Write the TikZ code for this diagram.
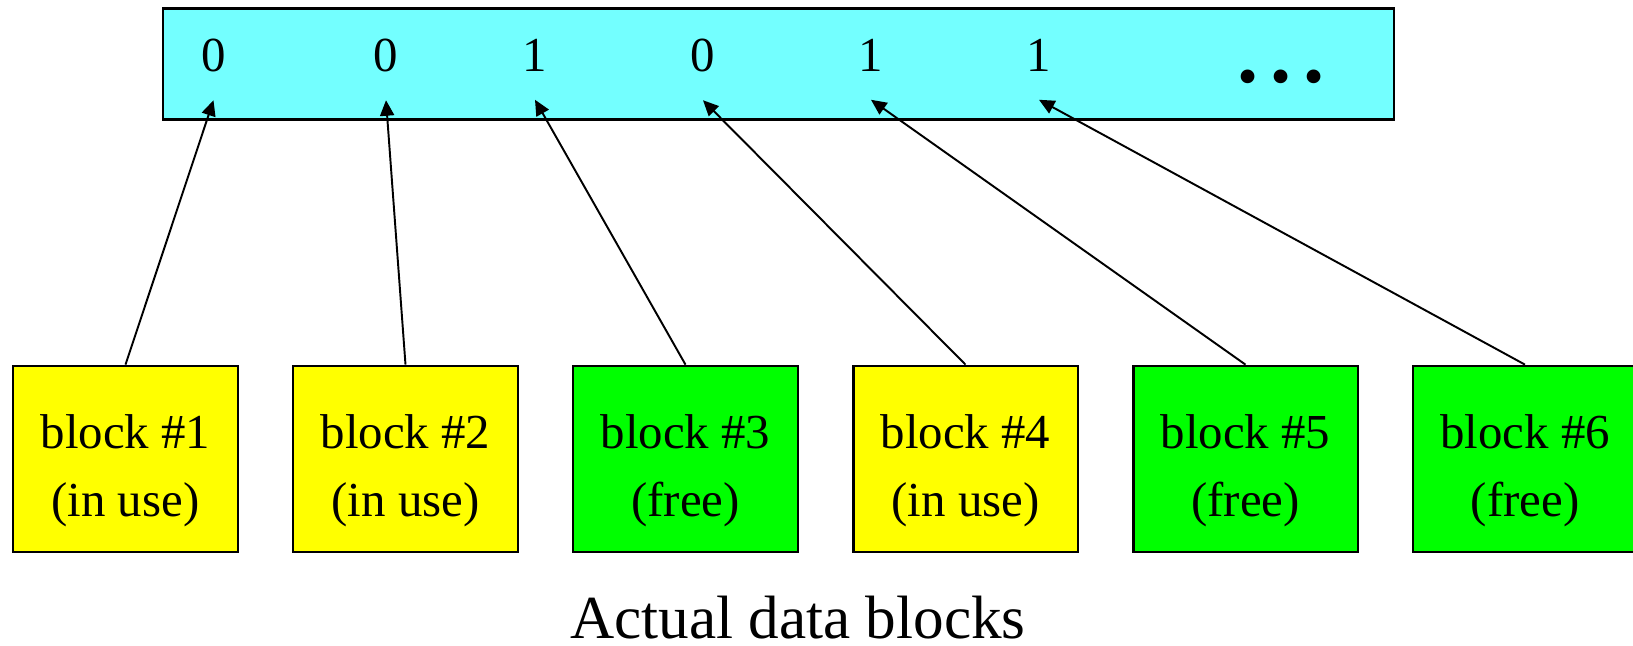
\documentclass[tikz,border=0pt]{standalone}
\usepackage{fontspec}
\setmainfont{Liberation Serif}
\usepackage{tikz}
\usetikzlibrary{arrows.meta}

\definecolor{bitcyan}{RGB}{115,255,255}
\definecolor{usedyellow}{RGB}{255,255,0}
\definecolor{freegreen}{RGB}{0,255,0}

\begin{document}
\begin{tikzpicture}[x=0.01cm, y=-0.01cm,
    bitmap/.style={draw, line width=0.75pt, fill=bitcyan, minimum width=12.3cm,
        minimum height=1.115cm, inner sep=0},
    bit/.style={anchor=base, inner xsep=0, inner ysep=7.7pt,
        font=\fontsize{13.9}{16}\selectfont},
    datablock/.style={draw, line width=0.6pt, minimum width=2.24cm,
        minimum height=1.865cm, inner sep=0},
    blocktext/.style={inner sep=0, align=center,
        font=\fontsize{13.9}{19.2}\selectfont},
    pointer/.style={-{Triangle[length=4.4pt, width=4pt]}, line width=0.55pt}]
            \useasboundingbox (0, 0) rectangle (1633, 646);

            % Bitmap
            \node[bitmap] (bar) at (778.5, 64) {};
            \foreach \i/\x/\b in {1/213.5/0, 2/386/0, 3/535/1, 4/703/0, 5/871/1, 6/1039/1}
                \node[bit] (d\i) at (\x, 72) {\b};
            \node[anchor=base, inner sep=0] (dots) at (1281, 83)
                {\fontsize{24}{24}\selectfont\bfseries .\hspace{3.4pt}.\hspace{3.4pt}.};

            % Data blocks
            \foreach \i/\x/\c/\s in {1/125.5/usedyellow/in use, 2/405.5/usedyellow/in use,
                    3/685.5/freegreen/free, 4/965.5/usedyellow/in use,
                    5/1245.5/freegreen/free, 6/1525/freegreen/free}
            {
                \node[datablock, fill=\c] (b\i) at (\x, 459) {};
                \node[blocktext] (t\i) at ([yshift=-3.3pt]b\i.center) {block \#\i\\(\s)};
                \draw[pointer] (b\i.north) -- (d\i.south);
            }

            \node[anchor=base, inner sep=0, font=\fontsize{17.4}{20}\selectfont] (caption)
                at (798, 638) {Actual data blocks};
        \end{tikzpicture}
\end{document}
